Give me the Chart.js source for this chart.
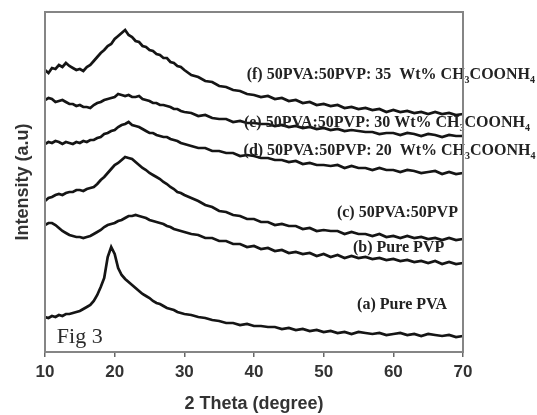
<!DOCTYPE html>
<html>
<head>
<meta charset="utf-8">
<script src="https://cdn.jsdelivr.net/npm/chart.js@4"></script>
<style>
  html, body { margin: 0; padding: 0; background: #fff; }
  #wrap { width: 537px; height: 415px; }
</style>
</head>
<body>
<div id="wrap"><canvas id="xrd"></canvas></div>
<script>
// 2 theta positions (degrees)
const theta = [10,10.5,11,11.5,12,12.5,13,13.5,14,14.5,15,15.5,16,16.5,17,17.5,18,18.5,19,19.5,20,20.5,21,21.5,22,22.5,23,23.5,24,24.5,25,25.5,26,26.5,27,27.5,28,28.5,29,29.5,30,
  31,32,33,34,35,36,37,38,39,40,41,42,43,44,45,46,47,48,49,50,51,52,53,54,55,56,57,58,59,60,61,62,63,64,65,66,67,68,69,70];

// stacked intensities (a.u., offset per sample)
const pvaPure = [35,34,36,35,37,36,38,38,39,40,41,43,45,47,51,57,65,74,95,105,98,84,77,73,70,67,64,61,58,56,54,51,49,48,46,44,43,42,40,39,38,
  37,35,34,32,31,29,29,27,28,26,26,25,25,23,24,22,23,21,22,20,21,19,20,18,20,19,18,19,17,18,19,17,18,16,18,17,16,17,15,16];
const pvpPure = [127,129,129,127,124,121,119,117,116,115,115,114,115,116,118,120,122,125,127,128,129,131,132,134,136,136,137,136,135,134,132,131,130,129,128,126,125,123,122,121,120,
  118,117,114,114,111,111,108,108,105,106,103,104,101,102,99,100,98,99,96,98,95,97,94,96,94,95,93,94,92,93,91,92,90,91,89,91,88,90,88,89];
const blend = [151,154,155,157,158,157,159,160,160,162,162,161,163,164,165,168,172,175,179,183,187,189,192,195,194,193,190,187,184,182,179,177,175,173,170,168,165,163,160,159,157,
  154,151,147,145,141,140,137,136,133,133,130,130,127,128,126,126,123,124,121,122,121,121,118,120,118,118,116,118,115,116,114,116,114,115,113,114,112,114,112,113];
const salt20 = [208,210,209,211,210,208,210,209,208,210,209,211,210,212,212,214,215,218,219,221,222,225,227,228,230,227,226,225,223,221,219,219,217,216,215,215,213,212,211,209,208,
  206,204,204,201,201,199,199,196,197,196,194,194,192,192,190,191,188,189,187,187,186,187,184,186,184,184,182,184,182,182,180,182,181,179,180,181,178,180,178,179];
const salt30 = [252,254,253,250,251,252,250,248,248,246,247,245,245,244,247,249,250,252,253,254,255,258,257,256,257,255,255,256,253,252,251,249,249,247,247,246,245,243,243,241,240,
  239,236,237,234,233,233,230,231,229,229,228,228,226,227,225,226,224,225,223,224,222,223,221,222,221,220,220,218,219,219,217,219,218,216,218,217,215,217,216,216];
const salt35 = [282,279,284,283,287,285,289,286,284,282,283,281,285,287,291,295,299,302,306,308,313,316,319,322,317,315,311,310,306,305,302,301,298,297,294,294,290,289,286,285,282,
  277,275,271,270,266,265,262,261,258,257,255,256,253,254,251,252,249,250,247,248,246,247,244,245,243,244,242,243,240,242,240,241,239,240,238,240,238,239,237,238];

const xTicks = [10, 20, 30, 40, 50, 60, 70];

// curve captions: text pieces (sub = subscript), anchored at (theta, intensity)
const captions = [
  { at: [38.95, 273], parts: [["(f) 50PVA:50PVP: 35  Wt% CH"], ["3", 1], ["COONH"], ["4", 1]] },
  { at: [38.55, 225], parts: [["(e) 50PVA:50PVP: 30 Wt% CH"], ["3", 1], ["COONH"], ["4", 1]] },
  { at: [38.5, 197], parts: [["(d) 50PVA:50PVP: 20  Wt% CH"], ["3", 1], ["COONH"], ["4", 1]] },
  { at: [51.9, 135], parts: [["(c) 50PVA:50PVP"]] },
  { at: [54.2, 100], parts: [["(b) Pure PVP"]] },
  { at: [54.8, 43], parts: [["(a) Pure PVA"]] }
];

const series = [pvaPure, pvpPure, blend, salt20, salt30, salt35];

const captionPlugin = {
  id: "captions",
  afterDatasetsDraw(chart) {
    const { ctx, scales } = chart;
    ctx.save();
    ctx.fillStyle = "#222";
    ctx.textBaseline = "alphabetic";
    captions.forEach(c => {
      let x = scales.x.getPixelForValue(c.at[0]);
      const y = scales.y.getPixelForValue(c.at[1]);
      c.parts.forEach(p => {
        ctx.font = p[1] ? 'bold 10px "Liberation Serif"' : 'bold 16px "Liberation Serif"';
        ctx.fillText(p[0], x, p[1] ? y + 4 : y);
        x += ctx.measureText(p[0]).width;
      });
    });
    ctx.font = '22px "Liberation Serif"';
    ctx.fillStyle = "#2b2b2b";
    ctx.fillText("Fig 3", scales.x.getPixelForValue(11.7), scales.y.getPixelForValue(9));
    ctx.restore();
  }
};

const framePlugin = {
  id: "frame",
  afterDraw(chart) {
    const { ctx, chartArea: a } = chart;
    ctx.save();
    ctx.strokeStyle = "#858585";
    ctx.lineWidth = 2;
    ctx.strokeRect(a.left, a.top, a.right - a.left, a.bottom - a.top);
    ctx.restore();
  }
};

new Chart(document.getElementById("xrd"), {
  type: "line",
  data: {
    datasets: series.map(s => ({
      data: s.map((v, i) => ({ x: theta[i], y: v })),
      borderColor: "#151515",
      borderWidth: 2.7,
      pointRadius: 0,
      tension: 0
    }))
  },
  options: {
    responsive: true,
    maintainAspectRatio: false,
    animation: false,
    layout: { padding: { left: 0, right: 74, top: 12, bottom: 0 } },
    plugins: { legend: { display: false }, tooltip: { enabled: false } },
    scales: {
      x: {
        type: "linear",
        min: 10,
        max: 70,
        afterFit(s) { s.height = 63; },
        afterBuildTicks(s) { s.ticks = xTicks.map(v => ({ value: v })); },
        grid: { drawOnChartArea: false, drawTicks: true, tickLength: 5, color: "#666", lineWidth: 1.5 },
        border: { display: false },
        ticks: { color: "#333", padding: 5, font: { family: '"Liberation Sans", Arial', size: 17, weight: "bold" } },
        title: {
          display: true,
          text: "2 Theta (degree)",
          color: "#333",
          padding: { top: 1, bottom: 0 },
          font: { family: '"Liberation Sans", Arial', size: 18, weight: "bold" }
        }
      },
      y: {
        min: 0,
        max: 340,
        afterFit(s) { s.width = 45; },
        grid: { display: false },
        border: { display: false },
        ticks: { display: false },
        title: {
          display: true,
          text: "Intensity (a.u)",
          color: "#333",
          padding: { top: 12, bottom: 0 },
          font: { family: '"Liberation Sans", Arial', size: 18, weight: "bold" }
        }
      }
    }
  },
  plugins: [captionPlugin, framePlugin]
});
</script>
</body>
</html>
